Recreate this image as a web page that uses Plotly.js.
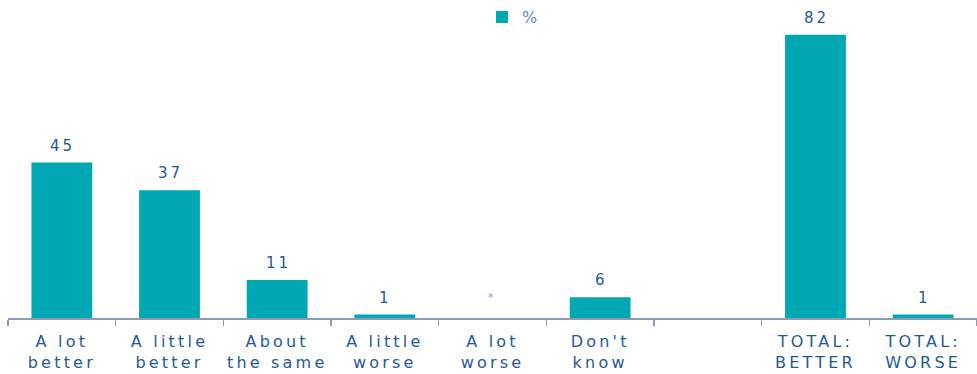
<!DOCTYPE html>
<html>
<head>
<meta charset="utf-8">
<script src="https://cdn.plot.ly/plotly-3.0.1.min.js"></script>
<style>
html,body{margin:0;padding:0;background:#fff;}
#chart{width:977px;height:374px;}
.xtick text{letter-spacing:3.2px;}
.annotation-text{letter-spacing:3px;}
</style>
</head>
<body>
<div id="chart"></div>
<script>
const categories = ["A lot<br>better","A little<br>better","About<br>the same","A little<br>worse","A lot<br>worse","Don't<br>know"," ","TOTAL:<br>BETTER","TOTAL:<br>WORSE"];
const values = [45, 37, 11, 1, 0, 6, null, 82, 1];
const labels = ["45","37","11","1","*","6","","82","1"];

const trace = {
  type: "bar",
  name: "%",
  x: categories,
  y: values,
  marker: {color: "#00a8b4"},
  hoverinfo: "none"
};

const annotations = categories.map((c, i) => {
  const star = labels[i] === "*";
  return {
    x: c, y: values[i] === null ? 0 : values[i],
    xref: "x", yref: "y",
    text: labels[i],
    showarrow: false,
    yanchor: "bottom",
    yshift: star ? 12 : 6,
    xshift: star ? 0 : 1,
    font: {family: "DejaVu Sans, Verdana, sans-serif", size: star ? 11 : 15, color: star ? "#7f9cc0" : "#1f5a96"}
  };
}).filter(a => a.text !== "");

const layout = {
  width: 977, height: 374,
  margin: {l: 8, r: 0, t: 8, b: 56},
  paper_bgcolor: "#fff", plot_bgcolor: "#fff",
  bargap: 0.435,
  showlegend: true,
  legend: {x: 0.5206, xanchor: "center", y: 1.032, yanchor: "top", orientation: "h",
           font: {family: "DejaVu Sans, Verdana, sans-serif", size: 16, color: "#5a8bc0"}},
  xaxis: {
    type: "category",
    tickson: "boundaries",
    ticks: "outside", ticklen: 6, tickcolor: "#8e9bb5", tickwidth: 1.5,
    ticklabelstandoff: 8,
    showline: true, linecolor: "#8e9bb5", linewidth: 2,
    showgrid: false,
    tickfont: {family: "DejaVu Sans, Verdana, sans-serif", size: 16, color: "#1f5a96"}
  },
  yaxis: {range: [0, 89.2], visible: false, showgrid: false, zeroline: false},
  annotations: annotations,
  font: {family: "DejaVu Sans, Verdana, sans-serif"}
};

Plotly.newPlot("chart", [trace], layout, {displayModeBar: false, staticPlot: true});
</script>
</body>
</html>
